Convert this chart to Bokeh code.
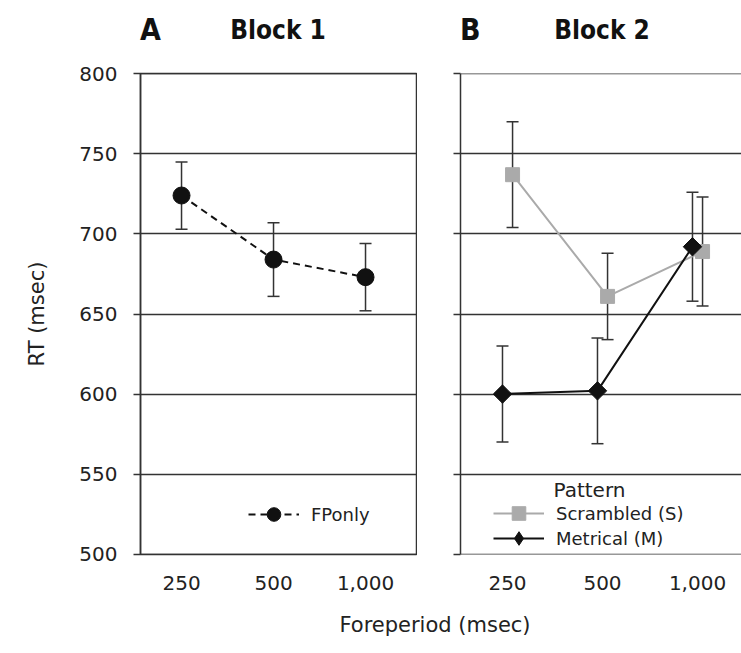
import math
from bokeh.plotting import figure
from bokeh.models import (ColumnDataSource, Whisker, TeeHead, Legend, LegendItem, Label,
                          FixedTicker, Range1d, Div, CustomJSTickFormatter)
from bokeh.layouts import row, column
from bokeh.transform import dodge
from bokeh.embed import file_html
from bokeh.resources import INLINE

# ---- data ----
foreperiod = ["250", "500", "1,000"]
fponly_rt = [724, 684, 673]
fponly_err = [21, 23, 21]
scrambled_rt = [737, 661, 689]
scrambled_err = [33, 27, 34]
metrical_rt = [600, 602, 692]
metrical_err = [30, 33, 34]
y_ticks = [500, 550, 600, 650, 700, 750, 800]

FONT = "DejaVu Sans"
TXT = "#222222"
LINE = "#333333"

idx = list(range(len(foreperiod)))


def src(rt, err):
    return ColumnDataSource(dict(
        x=idx, rt=rt,
        upper=[r + e for r, e in zip(rt, err)],
        lower=[r - e for r, e in zip(rt, err)],
    ))


def make_fig(width, border_left, xr, show_labels):
    p = figure(width=width, height=554, x_range=Range1d(*xr),
               y_range=Range1d(y_ticks[0] - 0.2, y_ticks[-1] + 0.2),
               output_backend="svg", toolbar_location=None,
               min_border_left=border_left, min_border_right=0,
               min_border_top=23, min_border_bottom=50)
    p.outline_line_color = None
    p.xgrid.visible = False
    p.ygrid.grid_line_color = LINE
    p.ygrid.grid_line_width = 1.5
    p.yaxis.ticker = FixedTicker(ticks=y_ticks)
    p.yaxis.minor_tick_line_color = None
    p.yaxis.major_tick_in = 0
    p.yaxis.major_tick_out = 7
    p.yaxis.major_tick_line_color = LINE
    p.yaxis.major_tick_line_width = 1.5
    p.yaxis.axis_line_color = LINE
    p.yaxis.axis_line_width = 1.5
    p.yaxis.major_label_text_font = FONT
    p.yaxis.major_label_text_font_size = "20px"
    p.yaxis.major_label_text_color = TXT
    p.yaxis.major_label_standoff = 16
    if not show_labels:
        p.yaxis.formatter = CustomJSTickFormatter(code="return ''")
    p.xaxis.ticker = FixedTicker(ticks=idx)
    p.xaxis.major_label_overrides = {i: lab for i, lab in zip(idx, foreperiod)}
    p.xaxis.major_tick_line_color = None
    p.xaxis.minor_tick_line_color = None
    p.xaxis.axis_line_color = None
    p.xaxis.major_label_text_font = FONT
    p.xaxis.major_label_text_font_size = "20px"
    p.xaxis.major_label_text_color = TXT
    p.xaxis.major_label_standoff = 15
    return p


def whisker(p, source, base):
    w = Whisker(source=source, base=base, upper="upper", lower="lower",
                line_color=LINE, line_width=1.5,
                upper_head=TeeHead(size=12, line_color=LINE, line_width=1.5),
                lower_head=TeeHead(size=12, line_color=LINE, line_width=1.5))
    p.add_layout(w)


def legend(items, loc):
    return Legend(items=items, location=loc,
                  border_line_color=None, background_fill_alpha=0, padding=0, margin=0,
                  spacing=0, glyph_width=51, glyph_height=34, label_height=20,
                  label_standoff=12, label_text_font=FONT, label_text_font_size="18px",
                  label_text_color=TXT)


# ---- Panel A ----
xa = (-0.446, 2.565)
pA = make_fig(417, 140, xa, True)
pA.outline_line_color = LINE
pA.outline_line_width = 1.5
pA.yaxis.axis_label = "RT (msec)"
pA.yaxis.axis_label_text_font = FONT
pA.yaxis.axis_label_text_font_size = "21px"
pA.yaxis.axis_label_text_font_style = "normal"
pA.yaxis.axis_label_text_color = TXT
pA.yaxis.axis_label_standoff = 27

sa = src(fponly_rt, fponly_err)
whisker(pA, sa, "x")
la = pA.line("x", "rt", source=sa, line_color="#111111", line_width=2, line_dash="7 5")
ca = pA.scatter("x", "rt", source=sa, marker="circle", size=17, fill_color="#111111",
                line_color="#111111")
pA.add_layout(legend([LegendItem(label="FPonly", renderers=[la, ca])], (108, 23)))

# ---- Panel B ----
xb = (-0.495, 2.463)
pB = make_fig(324, 43, xb, False)
off = 0.053
ss = src(scrambled_rt, scrambled_err)
sm = src(metrical_rt, metrical_err)
whisker(pB, ss, dodge("x", off))
whisker(pB, sm, dodge("x", -off))
ls = pB.line(dodge("x", off), "rt", source=ss, line_color="#aaaaaa", line_width=2)
ms = pB.scatter(dodge("x", off), "rt", source=ss, marker="square", size=14,
                fill_color="#aaaaaa", line_color="#aaaaaa")
lm = pB.line(dodge("x", -off), "rt", source=sm, line_color="#111111", line_width=2)
md = pB.scatter(dodge("x", -off), "rt", source=sm, marker="diamond", size=13,
                fill_color="#111111", line_color="#111111")
mm = pB.scatter(dodge("x", -off), "rt", source=sm, marker="square", angle=math.pi / 4,
                size=13, fill_color="#111111", line_color="#111111")
pB.add_layout(legend([LegendItem(label="Scrambled (S)", renderers=[ls, ms])], (33, 24)))
pB.add_layout(legend([LegendItem(label="Metrical (M)", renderers=[lm, md])], (33, -1)))
pB.add_layout(Label(x=0.484, y=540, text="Pattern", text_font=FONT, text_font_size="20px",
                    text_color=TXT, text_align="left", text_baseline="middle"))

# ---- titles and shared x label ----
TF = "font-family:'DejaVu Sans Condensed','DejaVu Sans';font-weight:bold;color:#111111;line-height:1;white-space:nowrap;position:absolute;"
titles = Div(text=(
    '<div style="position:relative;width:741px;height:50px;">'
    f'<span style="{TF}left:140px;top:15px;font-size:30px;">A</span>'
    f'<span style="{TF}left:278px;top:17px;font-size:26px;transform:translateX(-50%);">Block 1</span>'
    f'<span style="{TF}left:460px;top:15px;font-size:30px;">B</span>'
    f'<span style="{TF}left:602px;top:17px;font-size:26px;transform:translateX(-50%);">Block 2</span>'
    '</div>'), width=741, height=50, margin=0)

xlabel = Div(text=('<div style="box-sizing:border-box;width:741px;padding-left:129px;'
                   'padding-top:6px;text-align:center;font-family:\'DejaVu Sans\';'
                   'font-size:21px;color:#222222;">Foreperiod (msec)</div>'),
             width=741, height=40, margin=0)

layout = column(titles, row(pA, pB), xlabel)
open("out.html", "w").write(file_html(layout, INLINE))
